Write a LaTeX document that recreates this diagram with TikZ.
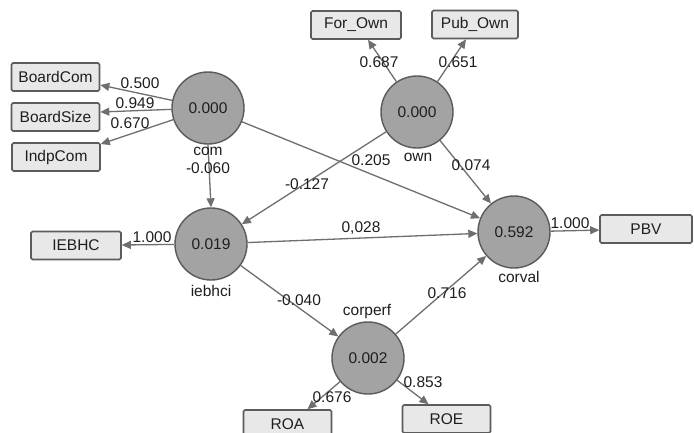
\documentclass[tikz,border=0pt]{standalone}
\usepackage{fontspec}
\setmainfont{Liberation Sans}
\usetikzlibrary{arrows.meta}
\definecolor{circfill}{HTML}{A3A3A3}
\definecolor{circline}{HTML}{5A5A5A}
\definecolor{boxfill}{HTML}{E8E8E8}
\definecolor{boxline}{HTML}{5C5C5C}
\definecolor{edgecol}{HTML}{6E6E6E}
\definecolor{txt}{HTML}{1E1E1E}
\tikzset{
  lv/.style={circle, draw=circline, fill=circfill, line width=1.4pt, minimum size=72pt, inner sep=0pt, text=txt, font=\fontsize{15.5}{18}\selectfont},
  mv/.style={rectangle, rounded corners=1.5pt, draw=boxline, fill=boxfill, line width=1.6pt, minimum width=88pt, minimum height=28pt, inner sep=0pt, text=txt, font=\fontsize{15.5}{18}\selectfont},
  lab/.style={inner sep=0pt, text=txt, font=\fontsize{15.5}{18}\selectfont},
  path/.style={draw=edgecol, line width=1.3pt, -{Triangle[width=8pt,length=9pt]}},
}
\begin{document}
\begin{tikzpicture}[x=1pt,y=-1pt]
\useasboundingbox (0,0) rectangle (694,432);
\fill[white] (0,0) rectangle (694,432);
% latent variables
\node[lv] (com) at (208,108) {0.000};
\node[lv] (own) at (417,112) {0.000};
\node[lv] (iebhci) at (211,244) {0.019};
\node[lv] (corval) at (514,232) {0.592};
\node[lv] (corperf) at (368,358) {0.002};
% indicators
\node[mv] (BoardCom) at (55.5,77) {BoardCom};
\node[mv] (BoardSize) at (55.5,117) {BoardSize};
\node[mv] (IndpCom) at (56,157) {IndpCom};
\node[mv, minimum width=90pt] (ForOwn) at (356,25) {For\_Own};
\node[mv, minimum width=86pt] (PubOwn) at (475,24.5) {Pub\_Own};
\node[mv, minimum width=90pt] (IEBHC) at (76,245.5) {IEBHC};
\node[mv, minimum width=92pt] (PBV) at (646,229) {PBV};
\node[mv] (ROA) at (287.5,424) {ROA};
\node[mv] (ROE) at (446.5,419) {ROE};
% connectors
\draw[path] (com) -- ([yshift=-8pt]BoardCom.east);
\draw[path] (com) -- ([yshift=5pt]BoardSize.east);
\draw[path] (com) -- ([yshift=13pt]IndpCom.east);
\draw[path] (com.south) -- (iebhci.north);
\draw[path] (com) -- (corval);
\draw[path] (own) -- ([xshift=12pt]ForOwn.south);
\draw[path] (own) -- ([xshift=-9pt]PubOwn.south);
\draw[path] (own) -- (iebhci);
\draw[path] (own) -- (corval);
\draw[path] (iebhci) -- (IEBHC);
\draw[path] (iebhci) -- (corval);
\draw[path] (iebhci) -- (corperf);
\draw[path] (corperf) -- (corval);
\draw[path] (corval) -- (PBV);
\draw[path] (corperf) -- ([xshift=20pt]ROA.north);
\draw[path] (corperf) -- ([xshift=-18pt]ROE.north);
% labels
\node[lab] (l1) at (140,83) {0.500};
\node[lab] (l2) at (135,103) {0.949};
\node[lab] (l3) at (130,123) {0.670};
\node[lab] (ncom) at (208,151) {com};
\node[lab] (l4) at (208,168) {-0.060};
\node[lab] (l5) at (379,62) {0.687};
\node[lab] (l6) at (458,62) {0.651};
\node[lab] (l7) at (371,160) {0.205};
\node[lab] (nown) at (418,157) {own};
\node[lab] (l8) at (471,165) {0.074};
\node[lab] (l9) at (307,184) {-0.127};
\node[lab] (l10) at (152,237) {1.000};
\node[lab] (niebhci) at (211,291) {iebhci};
\node[lab] (l11) at (361,228) {0,028};
\node[lab] (l12) at (570,223) {1.000};
\node[lab] (ncorval) at (519,277) {corval};
\node[lab] (l13) at (447,293) {0.716};
\node[lab] (l14) at (299,300) {-0.040};
\node[lab] (ncorperf) at (367,311) {corperf};
\node[lab] (l15) at (332,397) {0.676};
\node[lab] (l16) at (423,382) {0.853};
\end{tikzpicture}
\end{document}
